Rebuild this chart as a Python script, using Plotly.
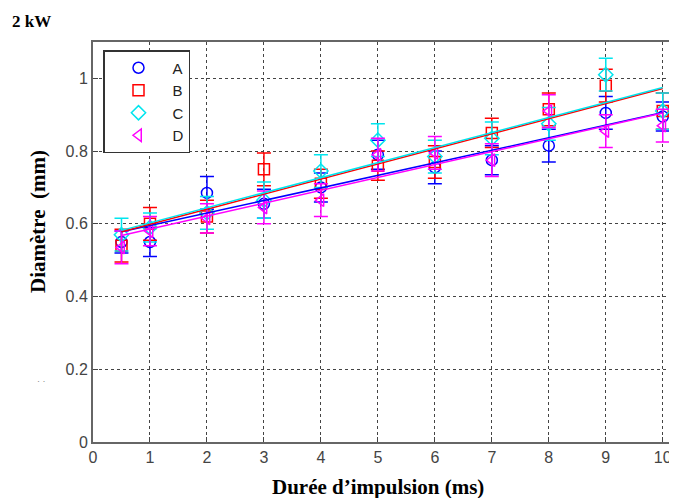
import plotly.graph_objects as go

# --- Données (2 kW) ---
durees = [0.5, 1, 2, 3, 4, 5, 6, 7, 8, 9, 10]

diam_A = [0.55, 0.55, 0.685, 0.655, 0.70, 0.79, 0.755, 0.775, 0.815, 0.905, 0.895]
err_A = [0.03, 0.04, 0.045, 0.04, 0.04, 0.04, 0.045, 0.04, 0.045, 0.045, 0.04]

diam_B = [0.54, 0.60, 0.62, 0.75, 0.71, 0.76, 0.77, 0.85, 0.915, 0.98, 0.91]
err_B = [0.045, 0.045, 0.045, 0.045, 0.04, 0.04, 0.045, 0.04, 0.045, 0.045, 0.05]

diam_C = [0.57, 0.59, 0.63, 0.665, 0.745, 0.83, 0.785, 0.835, 0.875, 1.01, 0.91]
err_C = [0.045, 0.04, 0.045, 0.05, 0.045, 0.045, 0.045, 0.045, 0.045, 0.045, 0.05]

diam_D = [0.535, 0.58, 0.615, 0.645, 0.665, 0.79, 0.795, 0.775, 0.91, 0.855, 0.87]
err_D = [0.045, 0.04, 0.04, 0.045, 0.045, 0.045, 0.045, 0.045, 0.045, 0.045, 0.045]

# droites de régression (extrémités lues)
fit_x = [0.5, 10]
fit_A = [0.578, 0.906]
fit_B = [0.578, 0.972]
fit_C = [0.582, 0.975]
fit_D = [0.568, 0.905]

x_ticks = [0, 1, 2, 3, 4, 5, 6, 7, 8, 9, 10]
y_ticks = [0, 0.2, 0.4, 0.6, 0.8, 1]
y_tick_labels = ["0", "0.2", "0.4", "0.6", "0.8", "1"]

series = [
    ("A", diam_A, err_A, fit_A, "#0000ff", "circle-open"),
    ("B", diam_B, err_B, fit_B, "#ff0000", "square-open"),
    ("C", diam_C, err_C, fit_C, "#00e5ee", "diamond-open"),
    ("D", diam_D, err_D, fit_D, "#ff00ff", "triangle-left-open"),
]

# la page HTML ajoute une marge de 8 px autour du graphique
DECAL = 8
PLOT_G, PLOT_H, PLOT_D, PLOT_B = 93, 42, 677, 442   # zone de tracé, pixels de la page
LARG_ZONE = PLOT_D - PLOT_G
HAUT_ZONE = PLOT_B - PLOT_H


def px_x(p):
    return (p - PLOT_G) / LARG_ZONE


def px_y(p):
    return (PLOT_B - p) / HAUT_ZONE


fig = go.Figure()

for nom, y, err, fit, couleur, symbole in series:
    fig.add_trace(go.Scatter(
        x=durees, y=y, mode="markers", name=nom,
        marker=dict(symbol=symbole, size=11, color=couleur, line=dict(width=1.5, color=couleur)),
        error_y=dict(type="data", array=err, visible=True, color=couleur, thickness=1.5, width=7),
    ))

for nom, y, err, fit, couleur, symbole in series:
    fig.add_trace(go.Scatter(
        x=fit_x, y=fit, mode="lines", showlegend=False,
        line=dict(color=couleur, width=1.5),
    ))

axe_commun = dict(
    showgrid=True, gridcolor="#444444", griddash="dot", gridwidth=1,
    zeroline=False, showline=True, linecolor="#666666", linewidth=2,
    ticks="inside", ticklen=5, tickcolor="#444444",
    tickfont=dict(family="Liberation Sans, Arial", size=16, color="#444444"),
)

fig.update_layout(
    width=677 - DECAL, height=498 - DECAL,
    margin=dict(l=PLOT_G - DECAL, r=0, t=PLOT_H - DECAL, b=498 - PLOT_B),
    paper_bgcolor="white", plot_bgcolor="white",
    xaxis=dict(range=[0, 10.25], tickvals=x_ticks, mirror=True, **axe_commun),
    yaxis=dict(range=[0, 1.1], tickvals=y_ticks, ticktext=y_tick_labels, mirror=False, **axe_commun),
    legend=dict(
        x=px_x(103), y=px_y(50), xanchor="left", yanchor="top",
        bgcolor="white", bordercolor="#333333", borderwidth=1.5,
        font=dict(family="Liberation Sans, Arial", size=15, color="#222222"),
        itemwidth=58, tracegroupgap=0,
    ),
    showlegend=True,
    annotations=[
        dict(text="<b>2 kW</b>", xref="paper", yref="paper", x=px_x(10), y=px_y(21),
             xanchor="left", yanchor="middle", showarrow=False,
             font=dict(family="Liberation Serif", size=17, color="black")),
        dict(text="<b>Durée d’impulsion (ms)</b>", xref="paper", yref="paper",
             x=px_x(378), y=px_y(487), xanchor="center", yanchor="middle",
             showarrow=False, font=dict(family="Liberation Serif", size=21, color="black")),
        dict(text="<b>Diamètre  (mm)</b>", xref="paper", yref="paper",
             x=px_x(38), y=px_y(222), xanchor="center", yanchor="middle",
             textangle=-90, showarrow=False,
             font=dict(family="Liberation Serif", size=21, color="black")),
        dict(text="· ·", xref="paper", yref="paper", x=px_x(41), y=px_y(381),
             xanchor="center", yanchor="middle", showarrow=False,
             font=dict(family="Liberation Sans", size=9, color="#888888")),
    ],
)

fig.write_html("out.html")
